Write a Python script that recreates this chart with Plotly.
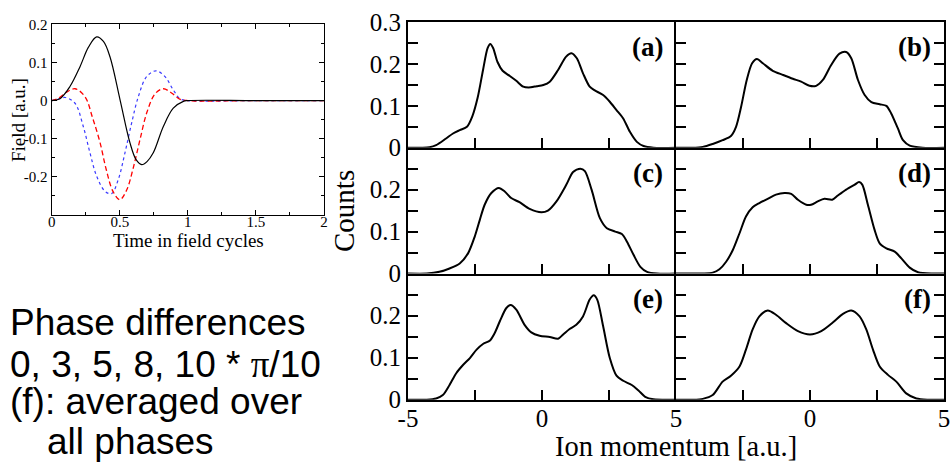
import plotly.graph_objects as go

# ---------------- data ----------------
# Inset: field vs time (field cycles)
t_black = [0, 0.06, 0.134, 0.208, 0.27, 0.33, 0.38, 0.428, 0.502, 0.575, 0.62, 0.661, 0.70, 0.746, 0.82, 0.893, 0.967, 1.0, 1.5, 2.0]
f_black = [0, 0.005, 0.037, 0.089, 0.14, 0.167, 0.155, 0.115, 0.002, -0.111, -0.155, -0.168, -0.16, -0.137, -0.068, -0.02, -0.002, 0, 0, 0]

t_red = [0, 0.05, 0.10, 0.171, 0.245, 0.30, 0.355, 0.40, 0.45, 0.50, 0.55, 0.60, 0.65, 0.70, 0.76, 0.82, 0.88, 0.94, 1.0, 1.5, 2.0]
f_red = [0, 0.006, 0.02, 0.031, 0.01, -0.045, -0.11, -0.18, -0.238, -0.26, -0.235, -0.175, -0.1, -0.03, 0.018, 0.031, 0.02, 0.004, 0, 0, 0]

t_blue = [0, 0.05, 0.10, 0.171, 0.232, 0.281, 0.33, 0.392, 0.44, 0.489, 0.538, 0.587, 0.636, 0.698, 0.766, 0.832, 0.893, 0.942, 1.0, 1.5, 2.0]
f_blue = [0, 0.004, 0.008, -0.007, -0.068, -0.137, -0.198, -0.238, -0.244, -0.207, -0.137, -0.059, 0.01, 0.063, 0.078, 0.063, 0.028, 0.005, 0, 0, 0]

# Panels: ion momentum distributions
p_a = [-5, -4.5, -4.2, -3.95, -3.58, -3.32, -3.07, -2.8, -2.6, -2.4, -2.2, -2.03, -1.93, -1.82, -1.66, -1.47, -1.21, -0.96, -0.7, -0.5, -0.2, 0.05, 0.29, 0.6, 0.9, 1.1, 1.3, 1.53, 1.78, 1.97, 2.28, 2.53, 2.78, 3.03, 3.28, 3.54, 3.79, 4.16, 5]
c_a = [0, 0, 0.001, 0.006, 0.022, 0.034, 0.042, 0.05, 0.075, 0.12, 0.186, 0.238, 0.248, 0.238, 0.205, 0.184, 0.172, 0.16, 0.146, 0.144, 0.147, 0.150, 0.158, 0.186, 0.218, 0.226, 0.214, 0.178, 0.146, 0.137, 0.126, 0.110, 0.09, 0.07, 0.038, 0.014, 0.004, 0, 0]

p_b = [-5, -4.4, -4.0, -3.63, -3.26, -2.95, -2.76, -2.57, -2.36, -2.16, -1.98, -1.76, -1.39, -1.0, -0.64, -0.33, -0.02, 0.23, 0.48, 0.79, 1.10, 1.35, 1.54, 1.79, 2.04, 2.29, 2.6, 2.85, 3.03, 3.28, 3.47, 3.72, 4.2, 5]
c_b = [0, 0, 0.002, 0.009, 0.018, 0.028, 0.05, 0.098, 0.162, 0.202, 0.212, 0.202, 0.184, 0.174, 0.165, 0.158, 0.148, 0.148, 0.162, 0.198, 0.225, 0.229, 0.214, 0.162, 0.126, 0.109, 0.104, 0.100, 0.082, 0.046, 0.018, 0.005, 0, 0]

p_c = [-5, -4.3, -3.83, -3.45, -3.07, -2.76, -2.51, -2.32, -2.14, -1.89, -1.61, -1.40, -1.15, -0.84, -0.46, -0.02, 0.22, 0.54, 0.91, 1.16, 1.43, 1.60, 1.85, 2.16, 2.42, 2.73, 2.98, 3.17, 3.42, 3.67, 3.92, 4.3, 5]
c_c = [0, 0, 0.004, 0.012, 0.024, 0.048, 0.088, 0.128, 0.164, 0.192, 0.204, 0.196, 0.18, 0.170, 0.154, 0.146, 0.150, 0.172, 0.212, 0.242, 0.250, 0.244, 0.200, 0.132, 0.108, 0.100, 0.094, 0.076, 0.044, 0.016, 0.004, 0, 0]

p_d = [-5, -4.0, -3.63, -3.38, -3.13, -2.88, -2.63, -2.39, -2.14, -1.89, -1.58, -1.27, -0.95, -0.70, -0.45, -0.14, 0.04, 0.29, 0.54, 0.83, 1.04, 1.35, 1.67, 1.83, 1.95, 2.16, 2.41, 2.60, 2.85, 3.16, 3.41, 3.72, 4.03, 4.6, 5]
c_d = [0, 0, 0.002, 0.01, 0.028, 0.056, 0.096, 0.136, 0.158, 0.168, 0.178, 0.188, 0.192, 0.190, 0.176, 0.164, 0.164, 0.172, 0.178, 0.176, 0.186, 0.2, 0.212, 0.218, 0.212, 0.164, 0.104, 0.072, 0.06, 0.052, 0.036, 0.014, 0.003, 0, 0]

p_e = [-5, -4.3, -3.95, -3.70, -3.45, -3.2, -2.94, -2.69, -2.44, -2.19, -1.94, -1.76, -1.57, -1.33, -1.17, -0.96, -0.65, -0.40, -0.09, 0.29, 0.60, 0.79, 1.03, 1.28, 1.53, 1.78, 1.93, 2.06, 2.28, 2.53, 2.78, 3.03, 3.35, 3.60, 3.85, 4.16, 5]
c_e = [0, 0, 0.003, 0.011, 0.035, 0.063, 0.083, 0.099, 0.119, 0.133, 0.141, 0.159, 0.187, 0.218, 0.225, 0.214, 0.178, 0.160, 0.152, 0.149, 0.145, 0.155, 0.168, 0.178, 0.198, 0.238, 0.248, 0.238, 0.175, 0.099, 0.057, 0.045, 0.035, 0.022, 0.007, 0.001, 0]

p_f = [-5, -4.4, -4.0, -3.63, -3.26, -2.95, -2.63, -2.39, -2.14, -1.89, -1.58, -1.27, -0.89, -0.45, 0.0, 0.42, 0.86, 1.23, 1.54, 1.85, 2.10, 2.35, 2.60, 2.91, 3.22, 3.59, 3.97, 4.4, 5]
c_f = [0, 0, 0.002, 0.011, 0.043, 0.057, 0.079, 0.119, 0.167, 0.198, 0.212, 0.202, 0.182, 0.163, 0.155, 0.163, 0.184, 0.204, 0.212, 0.198, 0.167, 0.119, 0.079, 0.059, 0.043, 0.015, 0.003, 0, 0]

panel_labels = ["(a)", "(b)", "(c)", "(d)", "(e)", "(f)"]
panels_x = [p_a, p_b, p_c, p_d, p_e, p_f]
panels_y = [c_a, c_b, c_c, c_d, c_e, c_f]

inset_xticks = [0, 0.5, 1, 1.5, 2]
inset_xlabels = ["0", "0.5", "1", "1.5", "2"]
inset_yticks = [-0.2, -0.1, 0, 0.1, 0.2]
inset_ylabels = ["-0.2", "-0.1", "0", "0.1", "0.2"]

main_xticks = [-5, -2.5, 0, 2.5, 5]
main_yticks = [0, 0.05, 0.1, 0.15, 0.2, 0.25, 0.3]

note_lines = [
    "Phase differences",
    '0, 3, 5, 8, 10 * <span style="font-family:Liberation Serif">π</span>/10',
    "(f): averaged over",
    "all phases",
]

# ---------------- layout helpers ----------------
W, H = 952, 473
def PX(x):
    return x / W
def PY(y):
    return 1 - y / H

SERIF = "Liberation Serif, Times New Roman, serif"
SANS = "Liberation Sans, Arial, sans-serif"

fig = go.Figure()

# inset traces
fig.add_trace(go.Scatter(x=t_blue, y=f_blue, xaxis="x", yaxis="y", mode="lines",
                         line=dict(color="#3a3aff", width=1.2, dash="dot", shape="spline"), showlegend=False))
fig.add_trace(go.Scatter(x=t_red, y=f_red, xaxis="x", yaxis="y", mode="lines",
                         line=dict(color="#ff0000", width=1.3, dash="5px,3px", shape="spline"), showlegend=False))
fig.add_trace(go.Scatter(x=t_black, y=f_black, xaxis="x", yaxis="y", mode="lines",
                         line=dict(color="black", width=1.2, shape="spline"), showlegend=False))

layout = dict(
    width=W, height=H, margin=dict(l=0, r=0, t=0, b=0, pad=0), autosize=False,
    paper_bgcolor="white", plot_bgcolor="white", showlegend=False,
    template="none",
)

layout["xaxis"] = dict(
    domain=[PX(51.7), PX(324)], range=[0, 2], anchor="y", automargin=False,
    tickmode="array", tickvals=inset_xticks, ticktext=inset_xlabels,
    ticks="inside", ticklen=5, tickwidth=1, tickcolor="black", ticklabelstandoff=-7,
    minor=dict(ticks="inside", ticklen=3, tickvals=[0.25, 0.75, 1.25, 1.75], tickcolor="black", showgrid=False),
    showline=True, linecolor="black", linewidth=1.2, mirror="ticks",
    showgrid=False, zeroline=False,
    tickfont=dict(family=SERIF, size=15, color="black"),
)
layout["yaxis"] = dict(
    domain=[PY(215), PY(24.3)], range=[-0.3, 0.2], anchor="x", automargin=False,
    tickmode="array", tickvals=inset_yticks, ticktext=inset_ylabels,
    ticks="inside", ticklen=5, tickwidth=1, tickcolor="black",
    minor=dict(ticks="inside", ticklen=3, tickvals=[-0.25, -0.15, -0.05, 0.05, 0.15], tickcolor="black", showgrid=False),
    showline=True, linecolor="black", linewidth=1.2, mirror="ticks",
    showgrid=False, zeroline=False,
    tickfont=dict(family=SERIF, size=15, color="black"),
)

cols = [(408, 676), (676, 944)]
rows = [(22.3, 147.7), (147.7, 273.5), (273.5, 399.7)]

annotations = []
for i in range(6):
    r, c = divmod(i, 2)
    n = i + 2
    xa, ya = f"x{n}", f"y{n}"
    fig.add_trace(go.Scatter(x=panels_x[i], y=panels_y[i], xaxis=xa, yaxis=ya, mode="lines",
                             line=dict(color="black", width=2, shape="spline", smoothing=0.8), showlegend=False))
    bottom = (r == 2)
    if bottom:
        xt = ["-5", "", "0", "", "5"] if c == 0 else ["", "", "0", "", "5"]
    else:
        xt = [""] * 5
    layout[f"xaxis{n}"] = dict(
        domain=[PX(cols[c][0]), PX(cols[c][1])], range=[-5, 5], anchor=ya, automargin=False,
        tickmode="array", tickvals=main_xticks, ticktext=xt,
        ticks="inside", ticklen=10, tickwidth=1.5, tickcolor="black", ticklabelstandoff=-5,
        showline=True, linecolor="black", linewidth=2, mirror=(True if r == 0 else False),
        showgrid=False, zeroline=False,
        tickfont=dict(family=SERIF, size=25, color="black"),
    )
    if c == 0:
        yt = ["0", "", "0.1", "", "0.2", "", "0.3" if r == 0 else ""]
    else:
        yt = [""] * 7
    layout[f"yaxis{n}"] = dict(
        domain=[PY(rows[r][1]), PY(rows[r][0])], range=[0, 0.3], anchor=xa, automargin=False,
        tickmode="array", tickvals=main_yticks, ticktext=yt,
        ticks="inside", ticklen=10, tickwidth=1.5, tickcolor="black",
        showline=True, linecolor="black", linewidth=2, mirror=("ticks" if c == 1 else False),
        showgrid=False, zeroline=False,
        tickfont=dict(family=SERIF, size=25, color="black"),
    )
    annotations.append(dict(
        text="<b>" + panel_labels[i] + "</b>", xref="paper", yref="paper",
        x=PX(cols[c][1] - 11), y=PY(rows[r][0] + 25), xanchor="right", yanchor="middle",
        showarrow=False, font=dict(family=SERIF, size=27, color="black"),
    ))

# axis titles
annotations += [
    dict(text="Counts", xref="paper", yref="paper", x=PX(344), y=PY(211), textangle=-90,
         xanchor="center", yanchor="middle", showarrow=False, font=dict(family=SERIF, size=29, color="black")),
    dict(text="Ion momentum [a.u.]", xref="paper", yref="paper", x=PX(676), y=PY(446), xanchor="center",
         yanchor="middle", showarrow=False, font=dict(family=SERIF, size=28.5, color="black")),
    dict(text="Field [a.u.]", xref="paper", yref="paper", x=PX(18), y=PY(120), textangle=-90,
         xanchor="center", yanchor="middle", showarrow=False, font=dict(family=SERIF, size=19, color="black")),
    dict(text="Time in field cycles", xref="paper", yref="paper", x=PX(188), y=PY(240), xanchor="center",
         yanchor="middle", showarrow=False, font=dict(family=SERIF, size=19, color="black")),
]

note_x = [8, 8, 8, 45]
note_y = [322, 364, 401, 441]
for txt, xx, yy in zip(note_lines, note_x, note_y):
    annotations.append(dict(text=txt, xref="paper", yref="paper", x=PX(xx), y=PY(yy), xanchor="left",
                            yanchor="middle", showarrow=False, font=dict(family=SANS, size=37, color="black")))

layout["annotations"] = annotations
fig.update_layout(**layout)
fig.write_html("out.html")
